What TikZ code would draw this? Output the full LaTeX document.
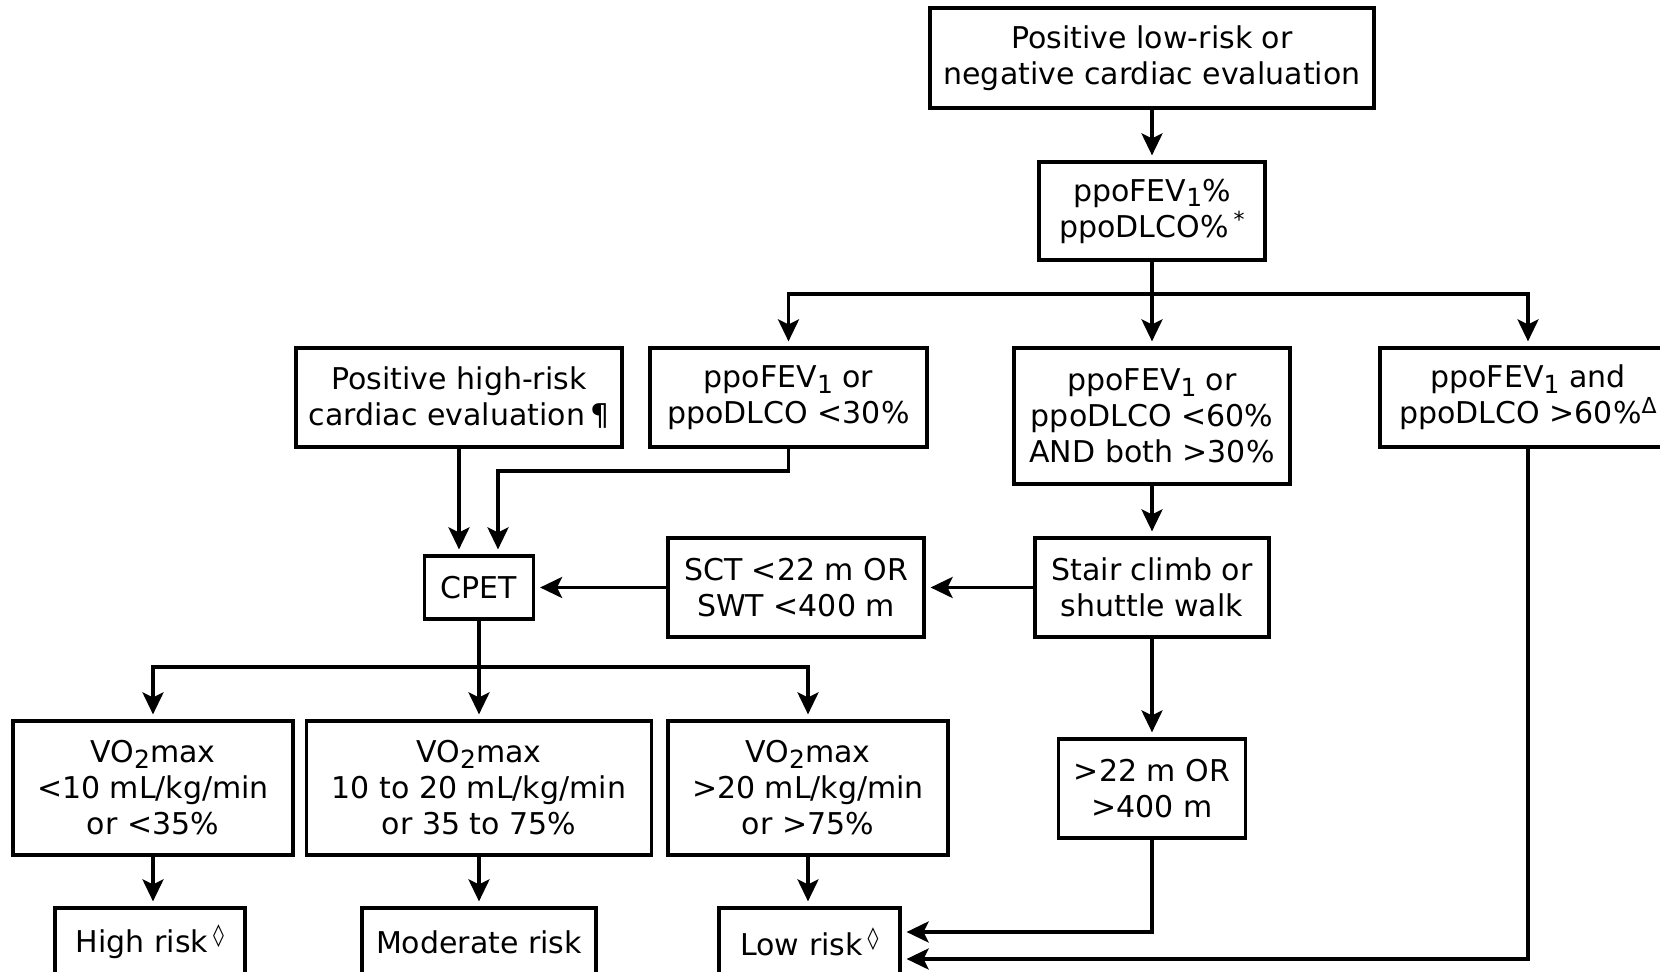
\documentclass[tikz,border=0pt]{standalone}
\usepackage{fontspec}
\setmainfont{DejaVu Sans}
\usetikzlibrary{arrows.meta}
\newcommand{\lowidx}[1]{\raisebox{-0.35ex}{\fontsize{12.5pt}{12.5pt}\selectfont #1}}
\newcommand{\highmark}[1]{\raisebox{0.6ex}{\fontsize{11pt}{11pt}\selectfont #1}}

\begin{document}
\begin{tikzpicture}[x=0.5pt, y=-0.5pt,
  box/.style={draw, line width=1.6pt, align=center, inner sep=2pt, font={\fontsize{15pt}{18pt}\selectfont}},
  arr/.style={-{Stealth[length=11pt, width=10.5pt, inset=2.5pt]}, line width=1.6pt, shorten >=2.5pt}]
\useasboundingbox (0,0) rectangle (1660,972);
\clip (0,0) rectangle (1660,972);

% Evaluation boxes
\node[box, minimum width=222pt, minimum height=50pt] (top) at (1152,58) {Positive low-risk or\\negative cardiac evaluation};
\node[box, minimum width=113pt, minimum height=49pt] (ppo) at (1152,211) {ppoFEV\lowidx{1}\%\\ppoDLCO\%\,\highmark{*}};
\node[box, minimum width=163pt, minimum height=49.5pt] (high) at (459,397.5) {Positive high-risk\\cardiac evaluation\,¶};
\node[box, minimum width=138.5pt, minimum height=49.5pt] (low30) at (788.5,397.5) {ppoFEV\lowidx{1} or\\ppoDLCO <30\%};
\node[box, minimum width=138pt, minimum height=68pt] (mid60) at (1152,416) {ppoFEV\lowidx{1} or\\ppoDLCO <60\%\\AND both >30\%};
\node[box, minimum width=148pt, minimum height=49.5pt] (hi60) at (1528,397.5) {ppoFEV\lowidx{1} and\\ppoDLCO >60\%\highmark{Δ}};

% Exercise tests
\node[box, minimum width=54.5pt, minimum height=31.5pt] (cpet) at (479,587.5) {CPET};
\node[box, minimum width=128pt, minimum height=49.5pt] (sct) at (796,587.5) {SCT <22 m OR\\SWT <400 m};
\node[box, minimum width=117pt, minimum height=49.5pt] (stair) at (1152,587.5) {Stair climb or\\shuttle walk};
\node[box, minimum width=93.5pt, minimum height=49.5pt] (far) at (1152,788.5) {>22 m OR\\>400 m};

% VO2max results
\node[box, minimum width=140pt, minimum height=67pt] (vo1) at (153,788) {VO\lowidx{2}max\\<10 mL/kg/min\\or <35\%};
\node[box, minimum width=172.5pt, minimum height=67pt] (vo2) at (479,788) {VO\lowidx{2}max\\10 to 20 mL/kg/min\\or 35 to 75\%};
\node[box, minimum width=140pt, minimum height=67pt] (vo3) at (808,788) {VO\lowidx{2}max\\>20 mL/kg/min\\or >75\%};

% Risk
\node[box, minimum width=95pt, minimum height=34pt] (hr) at (150,942) {High risk\,\highmark{◊}};
\node[box, minimum width=117pt, minimum height=34pt] (mr) at (479,942) {Moderate risk};
\node[box, minimum width=90.5pt, minimum height=34pt] (lr) at (809.5,942) {Low risk\,\highmark{◊}};

% Connectors
\coordinate (split) at (1152,294);
\coordinate (bend) at (498,471);
\coordinate (split2) at (479,667);
\draw[arr] (top) -- (ppo);
\draw[arr] (ppo) -- (mid60);
\draw[arr] (split) -| (low30);
\draw[arr] (split) -| (hi60);
\draw[arr] (high.south) -- (high.south |- cpet.north);
\draw[arr] (low30.south) |- (bend) -- (bend |- cpet.north);
\draw[arr] (mid60) -- (stair);
\draw[arr] (stair) -- (sct);
\draw[arr] (sct) -- (cpet);
\draw[arr] (stair) -- (far);
\draw[arr] (cpet) -- (vo2);
\draw[arr] (split2) -| (vo1);
\draw[arr] (split2) -| (vo3);
\draw[arr] (vo1.south) -- (vo1.south |- hr.north);
\draw[arr] (vo2) -- (mr);
\draw[arr] (vo3.south) -- (vo3.south |- lr.north);
\draw[arr] (far.south) |- ([yshift=5pt]lr.east);
\draw[arr] (hi60.south) |- ([yshift=-8.5pt]lr.east);
\end{tikzpicture}
\end{document}
